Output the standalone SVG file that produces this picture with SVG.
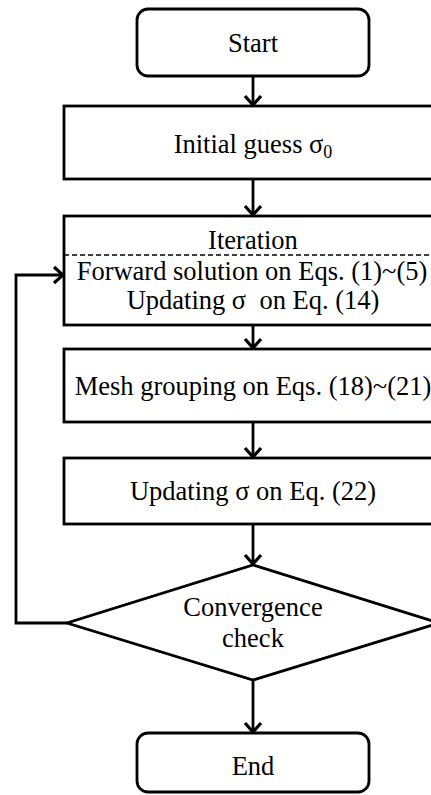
<svg xmlns="http://www.w3.org/2000/svg" width="431" height="795" viewBox="0 0 431 795">
<defs>
<marker id="arr" viewBox="0 0 20 20" refX="18" refY="10" markerWidth="20" markerHeight="20" markerUnits="userSpaceOnUse" orient="auto">
<path d="M9,2 L18,10 L9,18" fill="none" stroke="#000" stroke-width="3.2"/>
</marker>
</defs>
<style>
.box{fill:#fff;stroke:#000;stroke-width:2.8}
.t{font-family:"Liberation Serif","Times New Roman",serif;font-size:26.5px;fill:#000;text-anchor:middle}
.c{fill:none;stroke:#000;stroke-width:2.8}
</style>
<rect width="431" height="795" fill="#fff"/>
<g id="connectors">
<line class="c" x1="253" y1="76" x2="253" y2="105" marker-end="url(#arr)"/>
<line class="c" x1="253" y1="179" x2="253" y2="215" marker-end="url(#arr)"/>
<line class="c" x1="253" y1="325" x2="253" y2="348" marker-end="url(#arr)"/>
<line class="c" x1="253" y1="422" x2="253" y2="457" marker-end="url(#arr)"/>
<line class="c" x1="253" y1="524" x2="253" y2="564" marker-end="url(#arr)"/>
<line class="c" x1="253" y1="680" x2="253" y2="732" marker-end="url(#arr)"/>
<polyline class="c" points="67,623 16,623 16,275 63,275" marker-end="url(#arr)"/>
</g>
<g id="start">
<rect class="box" x="137" y="9" width="232" height="67" rx="11"/>
<text class="t" x="253" y="52">Start</text>
</g>
<g id="initial">
<rect class="box" x="64" y="106" width="380" height="73"/>
<text class="t" x="253" y="153">Initial guess σ<tspan font-size="18" dy="5">0</tspan></text>
</g>
<g id="iteration">
<rect class="box" x="64" y="216" width="380" height="109"/>
<line x1="64" y1="255" x2="444" y2="255" stroke="#000" stroke-width="1.5" stroke-dasharray="5,3"/>
<text class="t" x="253" y="249">Iteration</text>
<text class="t" x="252" y="280">Forward solution on Eqs. (1)~(5)</text>
<text class="t" x="253" y="309" xml:space="preserve">Updating σ  on Eq. (14)</text>
</g>
<g id="mesh">
<rect class="box" x="64" y="349" width="380" height="73"/>
<text class="t" x="253" y="395">Mesh grouping on Eqs. (18)~(21)</text>
</g>
<g id="update22">
<rect class="box" x="64" y="458" width="380" height="66"/>
<text class="t" x="253" y="500">Updating σ on Eq. (22)</text>
</g>
<g id="check">
<polygon class="box" points="253,565 439,623 253,680 67,623"/>
<text class="t" x="253" y="616">Convergence</text>
<text class="t" x="253" y="647">check</text>
</g>
<g id="end">
<rect class="box" x="137" y="733" width="232" height="59" rx="11"/>
<text class="t" x="253" y="775">End</text>
</g>
</svg>
